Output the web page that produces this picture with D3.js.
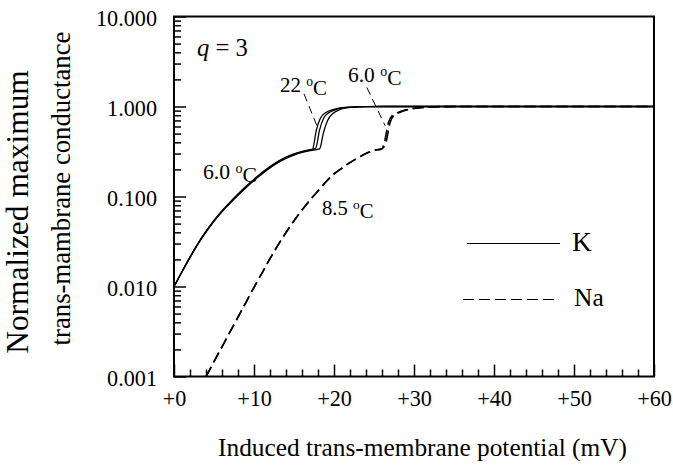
<!DOCTYPE html>
<html><head><meta charset="utf-8">
<script src="https://cdn.jsdelivr.net/npm/d3@7"></script>
<style>
body{margin:0;background:#fff;}
svg{display:block;}
svg text{font-family:"Liberation Serif","Times New Roman",serif;}
</style></head>
<body><svg id="c" width="673" height="475" font-family="Liberation Serif, serif"></svg>
<script>
// ---- data (mV, normalized conductance) ----
const xTickLabels = ["+0","+10","+20","+30","+40","+50","+60"];
const xMajor = [0,10,20,30,40,50,60];
const yTickLabels = ["0.001","0.010","0.100","1.000","10.000"];
const yMajor = [0.001,0.01,0.1,1,10];

// K curves (solid)
const k22 = [[0,0.0100],[1,0.0146],[2,0.0211],[3,0.0299],[4,0.0407],[5,0.0537],[6,0.0684],[7,0.0851],[8,0.1047],[9,0.1274],[10,0.1531],[11,0.1811],[12,0.2109],[13,0.2410],[14,0.2692],[15,0.2938],[16,0.3133],[17,0.3281],
  [17.3,0.332],[17.8,0.55],[18.3,0.74],[19,0.86],[20,0.93],[21,0.97],[22,0.985],[24,0.996],[26,1.0],[60,1.0]];
const k60a = [[0,0.0100],[1,0.0147],[2,0.0213],[3,0.0302],[4,0.0412],[5,0.0544],[6,0.0694],[7,0.0865],[8,0.1065],[9,0.1297],[10,0.1560],[11,0.1846],[12,0.2150],[13,0.2455],[14,0.2740],[15,0.2985],[16,0.3180],[17,0.3320],
  [17.7,0.342],[18.2,0.55],[18.7,0.74],[19.4,0.86],[20.3,0.93],[21.3,0.97],[22.3,0.985],[24.3,0.996],[26,1.0],[60,1.0]];
const k60b = [[0,0.0100],[1,0.0145],[2,0.0209],[3,0.0296],[4,0.0402],[5,0.0530],[6,0.0674],[7,0.0838],[8,0.1030],[9,0.1253],[10,0.1505],[11,0.1780],[12,0.2072],[13,0.2368],[14,0.2646],[15,0.2890],[16,0.3085],[17,0.3240],
  [17.5,0.328],[18.2,0.338],[18.7,0.52],[19.2,0.70],[19.9,0.84],[20.7,0.92],[21.6,0.965],[22.6,0.985],[24.6,0.996],[26.5,1.0],[60,1.0]];

// Na curves (dashed)
const na85 = [[4,0.00100],[5,0.00146],[6,0.00214],[7,0.00313],[8,0.00457],[9,0.00668],[10,0.0098],[11,0.0141],[12,0.0204],[13,0.0288],[14,0.0398],[15,0.0537],[16,0.0708],[17,0.0912],[18,0.115],[19,0.146],[20,0.178],[21,0.207],[22,0.238],[23,0.269],[24,0.300],[25,0.325],[26,0.340],
  [26.3,0.40],[26.8,0.66],[27.3,0.80],[28,0.86],[29,0.92],[30,0.955],[31,0.975],[32,0.988],[34,0.998],[36,1.0],[60,1.0]];
const na60 = [[4,0.00100],[5,0.00146],[6,0.00214],[7,0.00313],[8,0.00457],[9,0.00668],[10,0.0098],[11,0.0141],[12,0.0204],[13,0.0288],[14,0.0398],[15,0.0537],[16,0.0708],[17,0.0912],[18,0.115],[19,0.146],[20,0.178],[21,0.207],[22,0.238],[23,0.269],[24,0.300],[25,0.325],[26,0.340],
  [26.5,0.40],[27.0,0.66],[27.5,0.80],[28.2,0.86],[29.2,0.92],[30.2,0.955],[31.2,0.975],[32.2,0.988],[34,0.998],[36,1.0],[60,1.0]];

const leader22 = [[16.25,1.38],[17.9,0.60]];
const leader60 = [[24.1,1.63],[26.4,0.61]];

const FONT = "Liberation Serif, Times New Roman, serif";
const svg = d3.select("#c");
const L=174, R=654, T=16.5, B=376.5;
const x = d3.scaleLinear().domain([0,60]).range([L,R]);
const y = d3.scaleLog().domain([0.001,10]).range([B,T]);

// scale a text's font size so its rendered width matches the reference width
function fit(sel, target){
  const w = sel.node().getBBox().width;
  const fs = parseFloat(sel.style("font-size"));
  const nf = fs*target/w;
  sel.style("font-size", nf+"px");
  return nf;
}

// minor tick values
const xMinor = d3.range(0,61,2).filter(v=>v%10!==0);
const yMinor = [];
[0.001,0.01,0.1,1].forEach(d=>{for(let m=2;m<=9;m++) yMinor.push(+(d*m).toPrecision(3));});

// axes
const gx = svg.append("g").attr("transform",`translate(0,${B})`)
  .call(d3.axisBottom(x).tickValues(xMajor).tickSize(-12).tickPadding(13.5)
     .tickFormat((d,i)=>xTickLabels[i]));
const gxm = svg.append("g").attr("transform",`translate(0,${B})`)
  .call(d3.axisBottom(x).tickValues(xMinor).tickSize(-7).tickFormat(""));
const gy = svg.append("g").attr("transform",`translate(${L},0)`)
  .call(d3.axisLeft(y).tickValues(yMajor).tickSize(-12).tickPadding(17)
     .tickFormat((d,i)=>yTickLabels[i]));
const gym = svg.append("g").attr("transform",`translate(${L},0)`)
  .call(d3.axisLeft(y).tickValues(yMinor).tickSize(-7).tickFormat(""));
[gx,gxm,gy,gym].forEach(g=>{
  g.attr("font-family",FONT);
  g.select(".domain").remove();
  g.selectAll("line").attr("stroke","#000").attr("stroke-width",1.5);
  g.selectAll("text").attr("fill","#000").attr("font-family",FONT).style("font-size","22px");
});
const yTop = gy.selectAll("text").filter((d,i)=>i===4);
const tfs = fit(yTop, 61);
gy.selectAll("text").style("font-size",tfs+"px").attr("dy","0.42em");
gx.selectAll("text").style("font-size",tfs+"px");

// frame
svg.append("rect").attr("x",L).attr("y",T).attr("width",R-L).attr("height",B-T)
  .attr("fill","none").attr("stroke","#000").attr("stroke-width",2);

const line = d3.line().x(d=>x(d[0])).y(d=>y(d[1])).curve(d3.curveMonotoneX);
const plot = svg.append("g");
[k22, k60a, k60b].forEach(s=>{
  plot.append("path").attr("d",line(s)).attr("fill","none").attr("stroke","#000").attr("stroke-width",1.3);
});
[na85, na60].forEach(s=>{
  plot.append("path").attr("d",line(s)).attr("fill","none").attr("stroke","#000")
    .attr("stroke-width",1.6).attr("stroke-dasharray","11,5");
});
const straight = d3.line().x(d=>x(d[0])).y(d=>y(d[1]));
[leader22, leader60].forEach(s=>{
  plot.append("path").attr("d",straight(s)).attr("fill","none").attr("stroke","#000")
   .attr("stroke-width",1).attr("stroke-dasharray","8,5");
});

function txt(px,py,size){
  return svg.append("text").attr("x",px).attr("y",py).attr("font-family",FONT)
    .attr("fill","#000").style("font-size",size+"px");
}
// annotations
function degLabel(px, py, num, w){
  const t = txt(px,py,20);
  t.append("tspan").text(num+" ");
  t.append("tspan").text("o").style("font-size","0.65em").attr("dy","-0.42em");
  t.append("tspan").text("C").attr("dy","0.42em");
  fit(t, w);
}
degLabel(203,179,"6.0",54);
degLabel(280,91.5,"22",47);
degLabel(348,81.5,"6.0",53.5);
degLabel(322,215,"8.5",51.5);
const q = txt(197,56,20);
q.append("tspan").text("q").style("font-style","italic");
q.append("tspan").text(" = 3");
fit(q,51);

// legend
svg.append("line").attr("x1",467).attr("x2",560).attr("y1",243.5).attr("y2",243.5).attr("stroke","#000").attr("stroke-width",1.2);
fit(txt(572,250.5,22).text("K"),20);
svg.append("line").attr("x1",463).attr("x2",558).attr("y1",299.5).attr("y2",299.5).attr("stroke","#000").attr("stroke-width",1.2).attr("stroke-dasharray","11,5");
fit(txt(574,305.5,22).text("Na"),30);

// axis titles
fit(txt(422.5,456,25).attr("text-anchor","middle").text("Induced trans-membrane potential (mV)"),409);
fit(txt(0,0,28).attr("transform","translate(27.5,212) rotate(-90)").attr("text-anchor","middle")
  .text("Normalized maximum"),284);
fit(txt(0,0,26).attr("transform","translate(70,188.5) rotate(-90)").attr("text-anchor","middle")
  .text("trans-mambrane conductance"),314);
</script></body></html>
